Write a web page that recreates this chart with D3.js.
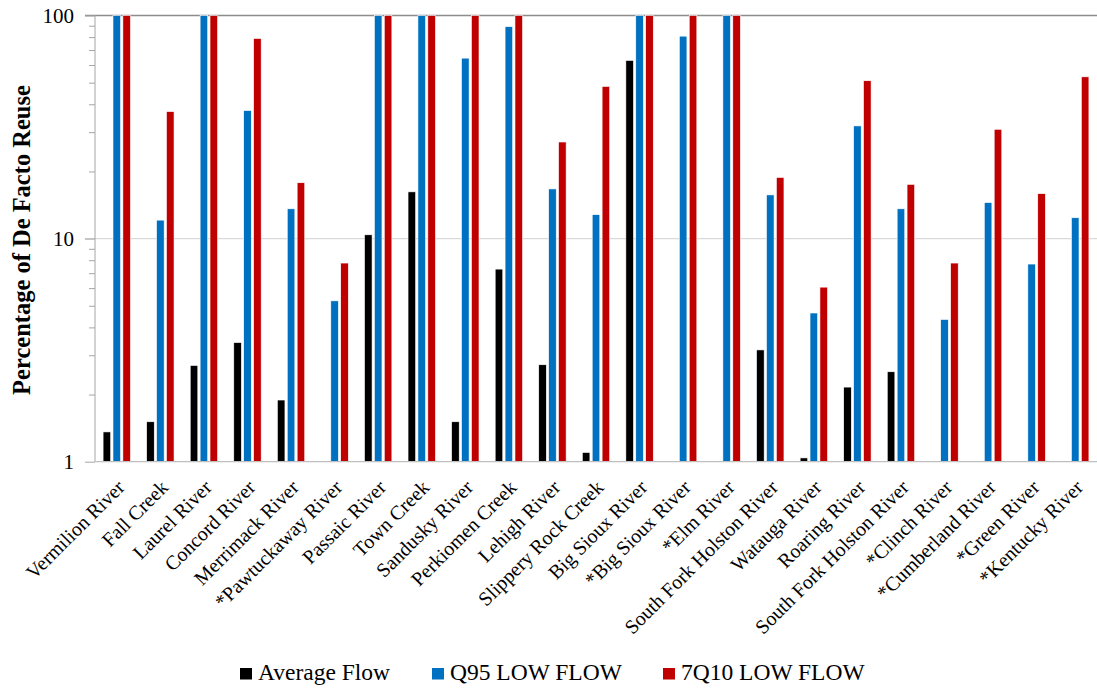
<!DOCTYPE html>
<html>
<head>
<meta charset="utf-8">
<script src="https://cdn.jsdelivr.net/npm/d3@7"></script>
<style>
  html, body { margin: 0; padding: 0; background: #fff; }
  svg { display: block; }
  svg text { font-family: "Liberation Serif", "DejaVu Serif", "Noto Serif", serif !important; fill: #000; }
</style>
</head>
<body>
<svg id="chart" width="1097" height="692"></svg>
<script>
// River sites
const categories = [
  "Vermilion River", "Fall Creek", "Laurel River", "Concord River", "Merrimack River",
  "*Pawtuckaway River", "Passaic River", "Town Creek", "Sandusky River", "Perkiomen Creek",
  "Lehigh River", "Slippery Rock Creek", "Big Sioux River", "*Big Sioux River", "*Elm River",
  "South Fork Holston River", "Watauga River", "Roaring River", "South Fork Holston River ",
  "*Clinch River", "*Cumberland River", "*Green River", "*Kentucky River"
];

// Percentage of de facto reuse under each flow condition (null = not reported)
const averageFlow = [1.36, 1.51, 2.70, 3.42, 1.89, null, 10.4, 16.2, 1.51, 7.30,
  2.72, 1.10, 62.9, null, null, 3.17, 1.04, 2.16, 2.53, null, null, null, null];
const q95LowFlow = [100, 12.1, 100, 37.5, 13.6, 5.26, 100, 100, 64.4, 89.1,
  16.7, 12.8, 100, 80.8, 100, 15.7, 4.64, 32.0, 13.6, 4.34, 14.5, 7.69, 12.4];
const q710LowFlow = [100, 37.1, 100, 78.9, 17.8, 7.77, 100, 100, 100, 100,
  27.1, 48.1, 100, 100, 100, 18.8, 6.06, 51.0, 17.5, 7.77, 30.9, 15.9, 53.1];

const seriesNames = ["Average Flow", "Q95 LOW FLOW", "7Q10 LOW FLOW"];
const seriesColors = ["#000000", "#0070C0", "#C00000"];
const yTicks = [1, 10, 100];

const series = [averageFlow, q95LowFlow, q710LowFlow].map((vals, s) => ({
  name: seriesNames[s], color: seriesColors[s],
  values: vals.map((v, i) => ({ cat: categories[i], v }))
}));

const svg = d3.select("#chart");
const plotLeft = 95, plotRight = 1097, plotTop = 15.5, plotBottom = 461.7;

const x = d3.scaleBand().domain(categories).range([plotLeft, plotRight]).padding(0);
const barW = 7.6, barStep = 9.9;
const inner = d3.scaleBand().domain(d3.range(3)).range([0, barStep * 3]).padding(0);
const y = d3.scaleLog().domain([1, 100]).range([plotBottom, plotTop]);

// Gridline at 10 and frame line at 100
svg.append("g").selectAll("line").data([10]).join("line")
  .attr("x1", plotLeft - 10).attr("x2", plotRight)
  .attr("y1", d => y(d)).attr("y2", d => y(d))
  .attr("stroke", "#d9d9d9").attr("stroke-width", 1.2);
svg.append("line")
  .attr("x1", plotLeft - 10).attr("x2", plotRight)
  .attr("y1", y(100)).attr("y2", y(100))
  .attr("stroke", "#8c8c8c").attr("stroke-width", 1.3);

// Bars
const groups = svg.append("g").selectAll("g").data(series).join("g")
  .attr("fill", d => d.color);
groups.each(function (s, si) {
  d3.select(this).selectAll("rect")
    .data(s.values.filter(d => d.v != null))
    .join("rect")
    .attr("x", d => x(d.cat) + x.bandwidth() / 2 - barStep * 1.5 + inner(si) + (barStep - barW) / 2)
    .attr("width", barW)
    .attr("y", d => y(d.v))
    .attr("height", d => plotBottom - y(d.v))
    .attr("stroke", "#ffffff").attr("stroke-width", 0.6);
});

// Y axis with minor ticks
const minor = [];
[1, 10].forEach(b => { for (let k = 2; k <= 9; k++) minor.push(b * k); });
const yAxisMinor = d3.axisLeft(y).tickValues(minor).tickSize(6).tickFormat("");
const gMinor = svg.append("g").attr("transform", `translate(${plotLeft},0)`).call(yAxisMinor);
gMinor.select(".domain").remove();
gMinor.selectAll("line").attr("stroke", "#a6a6a6");

const yAxis = d3.axisLeft(y).tickValues(yTicks).tickSize(10).tickPadding(11)
  .tickFormat(d3.format("d"));
const gy = svg.append("g").attr("transform", `translate(${plotLeft},0)`).call(yAxis)
  .attr("font-family", null).attr("font-size", null);
gy.select(".domain").attr("stroke", "#a6a6a6").attr("d", `M0,${plotTop}V${plotBottom}`);
gy.selectAll("line").attr("stroke", "#a6a6a6");
gy.selectAll("text").style("font-size", "21px");

// X axis baseline and category labels
svg.append("line")
  .attr("x1", plotLeft).attr("x2", plotRight).attr("y1", plotBottom).attr("y2", plotBottom)
  .attr("stroke", "#bfbfbf").attr("stroke-width", 1.2);

svg.append("g").selectAll("text").data(categories).join("text")
  .attr("transform", d => `translate(${x(d) + x.bandwidth() / 2 + 4},${plotBottom + 22}) rotate(-45)`)
  .attr("text-anchor", "end")
  .attr("dy", "0.35em")
  .style("font-size", "20px")
  .text(d => d.trim());

// Y axis title
svg.append("text")
  .attr("transform", `translate(29.5,240) rotate(-90)`)
  .attr("text-anchor", "middle")
  .style("font-size", "24.5px").style("font-weight", "bold")
  .text("Percentage of De Facto Reuse");

// Legend
const legendX = [240, 432, 663];
const legend = svg.append("g").selectAll("g").data(series).join("g")
  .attr("transform", (d, i) => `translate(${legendX[i]},680)`);
legend.append("rect").attr("x", 0).attr("y", -12).attr("width", 12).attr("height", 11.5)
  .attr("fill", d => d.color);
legend.append("text").attr("x", 18).attr("y", 0)
  .style("font-size", "23.5px").text(d => d.name);
</script>
</body>
</html>
